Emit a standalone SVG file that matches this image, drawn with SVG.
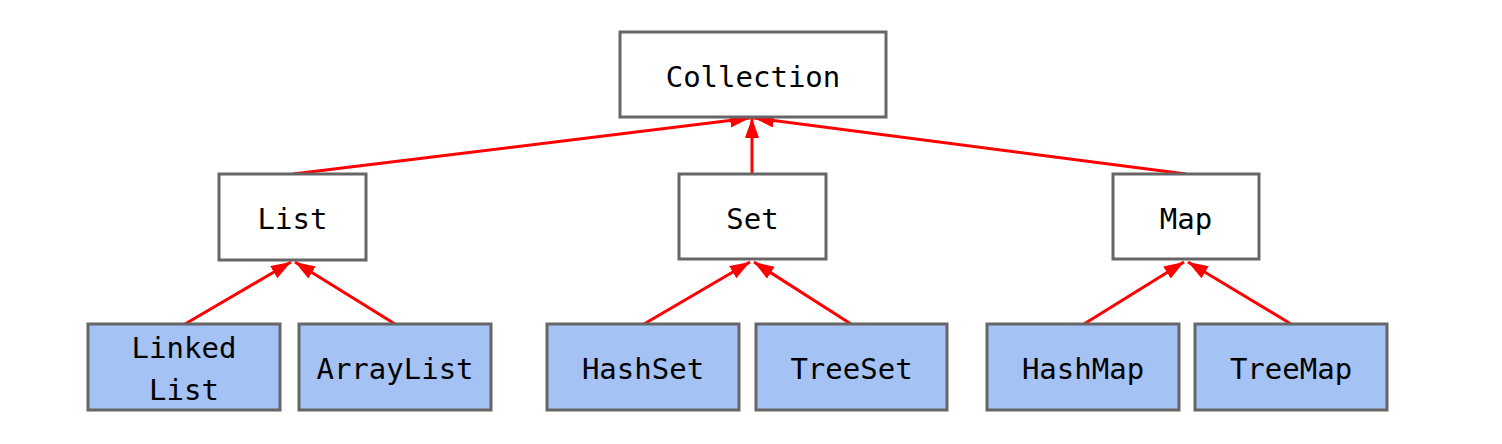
<svg xmlns="http://www.w3.org/2000/svg" width="1502" height="444" viewBox="0 0 1502 444">
<style>
.box{fill:#ffffff;stroke:#666666;stroke-width:3}
.leaf{fill:#a4c2f4;stroke:#666666;stroke-width:3}
.t{font-family:"DejaVu Sans Mono",monospace;font-size:29px;fill:#000000;text-anchor:middle}
.c{stroke:#ff0000;stroke-width:3;fill:none;marker-end:url(#ah)}
</style>
<defs>
<marker id="ah" markerUnits="userSpaceOnUse" markerWidth="22" markerHeight="16" refX="20" refY="7" orient="auto">
<path d="M0,0 L20,7 L0,14 z" fill="#ff0000"/>
</marker>
</defs>
<rect width="1502" height="444" fill="#ffffff"/>
<g id="connectors">
<line class="c" x1="293" y1="174" x2="750" y2="118"/>
<line class="c" x1="752" y1="174" x2="752" y2="118"/>
<line class="c" x1="1186" y1="174" x2="754" y2="118"/>
<line class="c" x1="185" y1="324" x2="291" y2="262"/>
<line class="c" x1="395" y1="324" x2="295" y2="262"/>
<line class="c" x1="644" y1="324" x2="750" y2="262"/>
<line class="c" x1="851" y1="324" x2="754" y2="262"/>
<line class="c" x1="1084" y1="324" x2="1184" y2="262"/>
<line class="c" x1="1291" y1="324" x2="1188" y2="262"/>
</g>
<g id="collection"><rect class="box" x="620" y="32" width="266" height="85"/><text class="t" x="753" y="87">Collection</text></g>
<g id="list"><rect class="box" x="219" y="174" width="147" height="86"/><text class="t" x="292.5" y="229">List</text></g>
<g id="set"><rect class="box" x="679" y="174" width="147" height="85"/><text class="t" x="752.5" y="229">Set</text></g>
<g id="map"><rect class="box" x="1113" y="174" width="146" height="85"/><text class="t" x="1186" y="229">Map</text></g>
<g id="linkedlist"><rect class="leaf" x="88" y="324" width="192" height="86"/><text class="t" x="184" y="358">Linked</text><text class="t" x="184" y="400">List</text></g>
<g id="arraylist"><rect class="leaf" x="299" y="324" width="192" height="86"/><text class="t" x="395" y="379">ArrayList</text></g>
<g id="hashset"><rect class="leaf" x="547" y="324" width="192" height="86"/><text class="t" x="643" y="379">HashSet</text></g>
<g id="treeset"><rect class="leaf" x="756" y="324" width="191" height="86"/><text class="t" x="851.5" y="379">TreeSet</text></g>
<g id="hashmap"><rect class="leaf" x="987" y="324" width="192" height="86"/><text class="t" x="1083" y="379">HashMap</text></g>
<g id="treemap"><rect class="leaf" x="1195" y="324" width="192" height="86"/><text class="t" x="1291" y="379">TreeMap</text></g>
</svg>
